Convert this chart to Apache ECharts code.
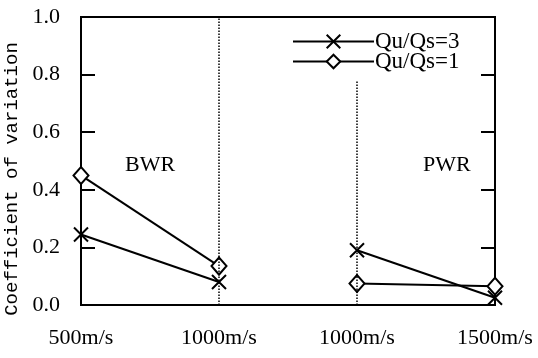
<!DOCTYPE html>
<html>
<head>
<meta charset="utf-8">
<script src="https://cdn.jsdelivr.net/npm/echarts@6/dist/echarts.min.js"></script>
<style>
  html, body { margin: 0; padding: 0; background: #fff; }
  #chart { width: 538px; height: 358px; }
</style>
</head>
<body>
<div id="chart"></div>
<script>
// x positions 0..3 along the bottom axis
const xLabels = ['500m/s', '1000m/s', '1000m/s', '1500m/s'];
const yTicks = [0, 0.2, 0.4, 0.6, 0.8, 1.0];

// BWR: 500m/s -> 1000m/s, PWR: 1000m/s -> 1500m/s
const bwrX = [0, 1];
const pwrX = [2, 3];
const bwrRatio3 = [0.245, 0.08];
const bwrRatio1 = [0.45, 0.135];
const pwrRatio3 = [0.19, 0.025];
const pwrRatio1 = [0.075, 0.065];

const crossPath = 'path://M0,0L10,10M10,0L0,10';
const serif = 'Liberation Serif';

function pairs(xs, ys) {
  return xs.map((x, i) => [x, ys[i]]);
}

function makeSeries(name, xs, ys, extra) {
  const cross = name === 'Qu/Qs=3';
  return Object.assign({
    name: name,
    type: 'line',
    data: pairs(xs, ys),
    symbol: cross ? crossPath : 'diamond',
    symbolSize: cross ? 14 : [15, 17],
    showAllSymbol: true,
    lineStyle: { color: '#000', width: 2 },
    itemStyle: {
      color: cross ? '#000' : '#fff',
      borderColor: '#000',
      borderWidth: 2
    },
    emphasis: { disabled: true },
    animation: false
  }, extra || {});
}

const chart = echarts.init(document.getElementById('chart'));
chart.setOption({
  backgroundColor: '#fff',
  animation: false,
  grid: {
    left: 81, right: 43, top: 17, bottom: 53,
    outerBoundsMode: 'none',
    containLabel: false,
    show: true, borderColor: '#000', borderWidth: 2
  },
  legend: {
    orient: 'vertical',
    left: 292, top: 30,
    padding: 0,
    itemWidth: 81, itemHeight: 17,
    itemGap: -3,
    data: ['Qu/Qs=3', 'Qu/Qs=1'],
    textStyle: { fontFamily: serif, fontSize: 23, color: '#000', padding: [0, 0, 0, -4] },
    selectedMode: false
  },
  xAxis: {
    type: 'value',
    min: 0, max: 3, interval: 1,
    splitLine: { show: false },
    axisLine: { show: true, onZero: false, lineStyle: { color: '#000', width: 2 } },
    axisTick: { show: false },
    axisLabel: {
      margin: 22,
      fontFamily: serif, fontSize: 22, color: '#000',
      formatter: v => xLabels[v]
    }
  },
  yAxis: [{
    type: 'value',
    min: yTicks[0], max: yTicks[yTicks.length - 1], interval: 0.2,
    name: 'Coefficient of variation',
    nameLocation: 'middle',
    nameRotate: 90,
    nameGap: 54,
    nameTextStyle: { fontFamily: 'Liberation Mono', fontSize: 19, color: '#000', padding: [0, 36, 0, 0] },
    splitLine: { show: false },
    axisLine: { show: true, lineStyle: { color: '#000', width: 2 } },
    axisTick: { show: true, inside: true, length: 14, lineStyle: { color: '#000', width: 2 } },
    axisLabel: {
      margin: 21,
      fontFamily: serif, fontSize: 22, color: '#000',
      formatter: v => v.toFixed(1)
    }
  }, {
    type: 'value',
    position: 'right',
    min: 0, max: 1, interval: 0.2,
    splitLine: { show: false },
    axisLine: { show: true, lineStyle: { color: '#000', width: 2 } },
    axisTick: { show: true, inside: true, length: 14, lineStyle: { color: '#000', width: 2 } },
    axisLabel: { show: false }
  }],
  graphic: [
    { type: 'text', left: 125, top: 154, style: { text: 'BWR', font: '22px "Liberation Serif"', fill: '#000' } },
    { type: 'text', left: 423, top: 154, style: { text: 'PWR', font: '22px "Liberation Serif"', fill: '#000' } }
  ],
  series: [
    makeSeries('Qu/Qs=3', bwrX, bwrRatio3, {
      markLine: {
        silent: true,
        symbol: 'none',
        label: { show: false },
        lineStyle: { color: '#000', type: 'dotted', width: 1.5 },
        data: [
          [{ coord: [1, 0] }, { coord: [1, 1] }],
          [{ coord: [2, 0] }, { coord: [2, 0.78] }]
        ]
      }
    }),
    makeSeries('Qu/Qs=1', bwrX, bwrRatio1),
    makeSeries('Qu/Qs=3', pwrX, pwrRatio3),
    makeSeries('Qu/Qs=1', pwrX, pwrRatio1)
  ]
});
</script>
</body>
</html>
